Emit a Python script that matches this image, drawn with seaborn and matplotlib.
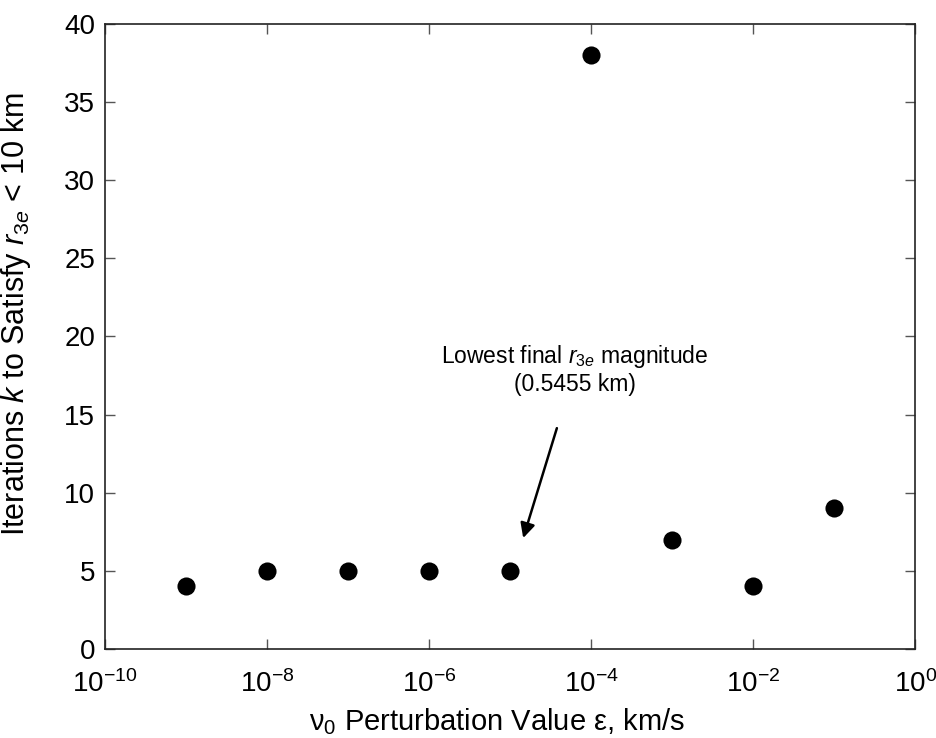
import numpy as np
import pandas as pd
import matplotlib
matplotlib.use("Agg")
import matplotlib.pyplot as plt
import seaborn as sns

# ---------------- Data ----------------
eps_values = [1e-9, 1e-8, 1e-7, 1e-6, 1e-5, 1e-4, 1e-3, 1e-2, 1e-1]
iterations = [4, 5, 5, 5, 5, 38, 7, 4, 9]

data = pd.DataFrame({"eps": eps_values, "k": iterations})

# ---------------- Style ----------------
sns.set_style("ticks")
plt.rcParams["font.family"] = ["Liberation Sans", "DejaVu Sans"]
plt.rcParams["mathtext.fontset"] = "custom"
plt.rcParams["mathtext.rm"] = "Liberation Sans"
plt.rcParams["mathtext.it"] = "Liberation Sans:italic"
plt.rcParams["mathtext.sf"] = "Liberation Sans"
plt.rcParams["axes.unicode_minus"] = False
plt.rcParams["text.color"] = "black"
plt.rcParams["axes.labelcolor"] = "black"
plt.rcParams["xtick.labelcolor"] = "black"
plt.rcParams["ytick.labelcolor"] = "black"

fig = plt.figure(figsize=(9.36, 7.38), dpi=100)
ax = fig.add_axes([0.112, 0.1206, 0.866, 0.8469])

sns.scatterplot(data=data, x="eps", y="k", ax=ax, color="black",
                s=170, edgecolor="black", linewidth=0, zorder=3)

ax.set_xscale("log")
ax.set_xlim(1e-10, 1e0)
ax.set_ylim(0, 40)
ax.set_xticks([1e-10, 1e-8, 1e-6, 1e-4, 1e-2, 1e0])
ax.set_yticks(np.arange(0, 41, 5))
ax.minorticks_off()

ax.tick_params(direction="in", length=7, width=1, labelsize=20,
               top=True, right=True, color="#555555")
ax.tick_params(axis="x", pad=15)
ax.tick_params(axis="y", pad=7)
for sp in ax.spines.values():
    sp.set_visible(True)
    sp.set_linewidth(1.2)
    sp.set_color("#222222")

ax.set_xlabel(r"$\mathrm{\nu_0}$ Perturbation Value $\mathrm{\varepsilon}$, km/s",
              fontsize=21)
ax.set_ylabel(r"Iterations $k$ to Satisfy $r_{3e}$ < 10 km", fontsize=22)
ax.xaxis.set_label_coords(0.484, -0.092)
ax.yaxis.set_label_coords(-0.089, 0.536)

# ---------------- Annotation ----------------
ax.annotate("Lowest final $r_{3e}$ magnitude\n(0.5455 km)",
            xy=(1.45e-5, 7.1), xytext=(6.3e-5, 17.9),
            ha="center", va="center", fontsize=16.5, linespacing=1.15,
            arrowprops=dict(arrowstyle="-|>", color="black", lw=1.8,
                            mutation_scale=22, shrinkA=22, shrinkB=0))

fig.savefig("out.png", dpi=100)
